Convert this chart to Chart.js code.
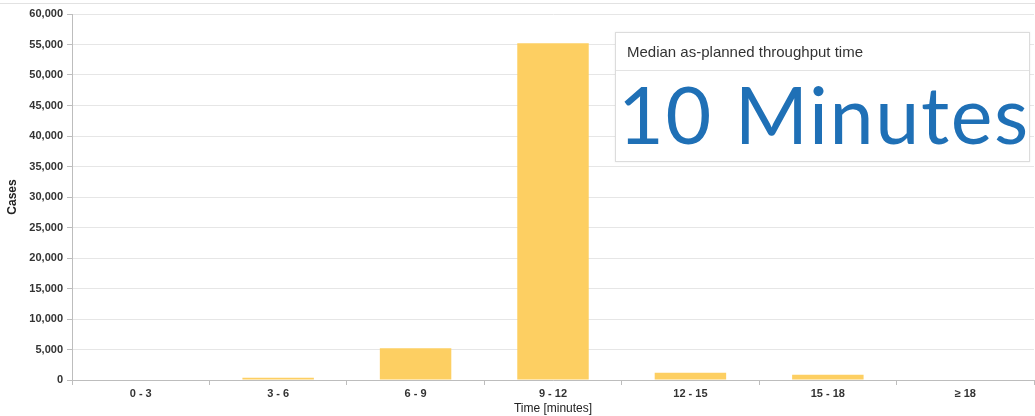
<!DOCTYPE html>
<html>
<head>
<meta charset="utf-8">
<script src="https://cdn.jsdelivr.net/npm/chart.js@4.4.1/dist/chart.umd.min.js"></script>
<style>
  html, body { margin: 0; padding: 0; background: #fff; }
  #wrap { position: relative; width: 1035px; height: 416px; overflow: hidden; }
  #topline { position: absolute; left: 0; top: 3px; width: 1035px; border-top: 1px solid #e2e2e2; }
  #chartBox { position: absolute; left: 0; top: 0; width: 1035px; height: 416px; }
  .kpi {
    position: absolute; left: 615px; top: 32px; width: 415px; height: 130px;
    background: #fff; border: 1px solid #dcdcdc; box-sizing: border-box;
    box-shadow: 0 0 2px rgba(0,0,0,0.08);
  }
  .kpi .head {
    font: 15px "Liberation Sans", Arial, sans-serif; color: #333;
    height: 38px; line-height: 37px; padding-left: 11px;
    border-bottom: 1px solid #e3e3e3; box-sizing: border-box;
  }
  .kpi .value {
    font-family: Lato, "Open Sans", sans-serif; font-size: 79px; color: #1f70b6;
    line-height: 86px; padding-left: 2px; white-space: nowrap; letter-spacing: 1.6px;
  }
</style>
</head>
<body>
<div id="wrap">
  <div id="topline"></div>
  <div id="chartBox"><canvas id="myChart" width="1035" height="416"></canvas></div>
  <div class="kpi">
    <div class="head">Median as-planned throughput time</div>
    <div class="value">10 Minutes</div>
  </div>
</div>
<script>
const timeBuckets = ['0 - 3', '3 - 6', '6 - 9', '9 - 12', '12 - 15', '15 - 18', '\u2265 18'];
const caseCounts = [0, 350, 5200, 55200, 1200, 870, 0];
const yMax = 60000;
const yStep = 5000;

const labelFont = { family: '"Liberation Sans", Arial, sans-serif', size: 11, weight: 'bold' };

const ctx = document.getElementById('myChart');

new Chart(ctx, {
  type: 'bar',
  data: {
    labels: timeBuckets,
    datasets: [{
      label: 'Cases',
      data: caseCounts,
      backgroundColor: '#fdcf62',
      borderWidth: 0,
      barPercentage: 0.52,
      categoryPercentage: 1
    }]
  },
  options: {
    responsive: false,
    animation: false,
    layout: { padding: { top: 14, right: 1, left: 0, bottom: 0 } },
    plugins: { legend: { display: false }, tooltip: { enabled: false } },
    scales: {
      x: {
        offset: true,
        grid: { offset: true, drawOnChartArea: false, tickLength: 5, color: '#bdbdbd' },
        border: { color: '#bdbdbd', width: 1 },
        ticks: { color: '#333', font: labelFont, padding: 2, maxRotation: 0 },
        title: {
          display: true, text: 'Time [minutes]', color: '#222',
          font: { family: '"Liberation Sans", Arial, sans-serif', size: 12 },
          padding: { top: 0, bottom: 0 }
        },
        afterFit: (scale) => { scale.height = 36; }
      },
      y: {
        min: 0,
        max: yMax,
        grid: { color: '#e6e6e6', tickLength: 5, tickColor: '#bdbdbd' },
        border: { color: '#bdbdbd', width: 1 },
        ticks: {
          stepSize: yStep, color: '#333', font: labelFont, padding: 4,
          callback: (v) => v.toLocaleString('en-US')
        },
        title: {
          display: true, text: 'Cases', color: '#222',
          font: { family: '"Liberation Sans", Arial, sans-serif', size: 12, weight: 'bold' },
          padding: { top: 5, bottom: 0 }
        },
        afterFit: (scale) => { scale.width = 72; }
      }
    }
  }
});
</script>
</body>
</html>
